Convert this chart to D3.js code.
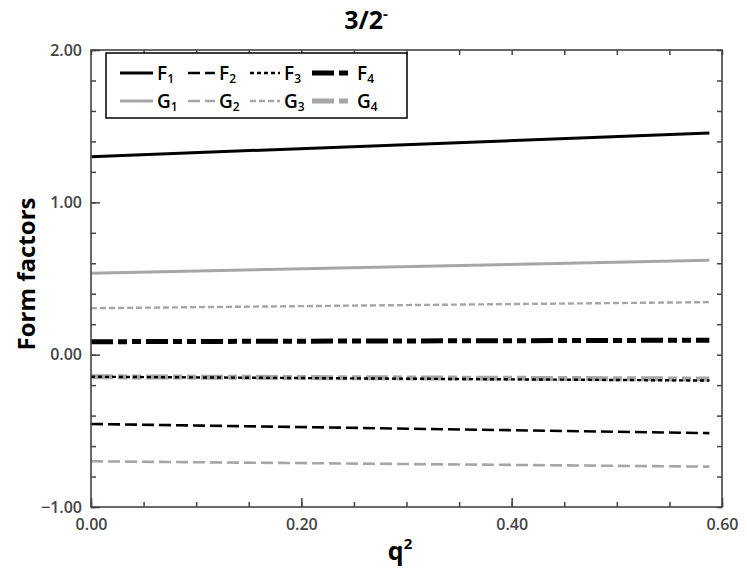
<!DOCTYPE html>
<html>
<head>
<meta charset="utf-8">
<script src="https://cdn.jsdelivr.net/npm/d3@7"></script>
<style>
  body { margin: 0; background: #fff; }
  text { font-family: "Open Sans", "Noto Sans", sans-serif; }
</style>
</head>
<body>
<div id="chart"></div>
<script>
// chart data
var q2 = [0, 0.588];
var seriesNames = ["F1", "F2", "F3", "F4", "G1", "G2", "G3", "G4"];
var F1 = [1.30, 1.455];
var F2 = [-0.455, -0.515];
var F3 = [-0.145, -0.17];
var F4 = [0.085, 0.095];
var G1 = [0.535, 0.62];
var G2 = [-0.70, -0.735];
var G3 = [0.305, 0.345];
var G4 = [-0.145, -0.16];
var xTicks = [0, 0.2, 0.4, 0.6];
var yTicks = [-1, 0, 1, 2];

var svgWidth = 747;
var svgHeight = 588;
var margin = { top: 50, right: 25, bottom: 81, left: 91 };
var width = svgWidth - margin.left - margin.right;
var height = svgHeight - margin.top - margin.bottom;

var black = "#000";
var grey = "#a6a6a6";
var axisColor = "#444";

// line styles for each series
var styles = {
    F1: { color: black, w: 3, dash: null },
    F2: { color: black, w: 2.6, dash: "12,5" },
    F3: { color: black, w: 2.4, dash: "4,3" },
    F4: { color: black, w: 5, dash: "22,5,9,5,9,5" },
    G1: { color: grey, w: 3, dash: null },
    G2: { color: grey, w: 2.6, dash: "12,5" },
    G3: { color: grey, w: 2.4, dash: "6,3" },
    G4: { color: grey, w: 5, dash: "22,5,9,5,9,5" }
};
var values = { F1: F1, F2: F2, F3: F3, F4: F4, G1: G1, G2: G2, G3: G3, G4: G4 };

var svg = d3.select("#chart").append("svg")
    .attr("width", svgWidth)
    .attr("height", svgHeight);

var chartGroup = svg.append("g")
    .attr("transform", `translate(${margin.left}, ${margin.top})`);

var xScale = d3.scaleLinear().domain([0, 0.6]).range([0, width]);
var yScale = d3.scaleLinear().domain([-1, 2]).range([height, 0]);

// lines (draw in an order so F3 sits on top of G4 like the original)
var line = d3.line()
    .x(function(d) { return xScale(d[0]); })
    .y(function(d) { return yScale(d[1]); });

["G2", "F2", "G4", "F3", "F4", "G3", "G1", "F1"].forEach(function(name) {
    var s = styles[name];
    var pts = q2.map(function(q, i) { return [q, values[name][i]]; });
    chartGroup.append("path")
        .datum(pts)
        .attr("d", line)
        .attr("fill", "none")
        .attr("stroke", s.color)
        .attr("stroke-width", s.w)
        .attr("stroke-dasharray", s.dash);
});

// axes: ticks inside, minor ticks too
var xMinor = d3.range(0, 0.6001, 0.05);
var yMinor = d3.range(-1, 2.001, 0.2);

function tickStyle(g) {
    g.select(".domain").remove();
    g.selectAll(".tick line").attr("stroke", axisColor).attr("stroke-width", 1.5);
}

chartGroup.append("g")
    .attr("transform", `translate(0, ${height})`)
    .call(d3.axisBottom(xScale).tickValues(xMinor).tickSizeInner(-5).tickFormat(""))
    .call(tickStyle);
chartGroup.append("g")
    .call(d3.axisTop(xScale).tickValues(xMinor).tickSizeInner(-5).tickFormat(""))
    .call(tickStyle);
chartGroup.append("g")
    .call(d3.axisLeft(yScale).tickValues(yMinor).tickSizeInner(-5).tickFormat(""))
    .call(tickStyle);
chartGroup.append("g")
    .attr("transform", `translate(${width}, 0)`)
    .call(d3.axisRight(yScale).tickValues(yMinor).tickSizeInner(-5).tickFormat(""))
    .call(tickStyle);

// major ticks with labels
var xAxis = chartGroup.append("g")
    .attr("transform", `translate(0, ${height})`)
    .call(d3.axisBottom(xScale).tickValues(xTicks).tickSizeInner(-9).tickPadding(12)
        .tickFormat(d3.format(".2f")));
xAxis.call(tickStyle);
xAxis.selectAll("text")
    .style("font-size", "16px").style("font-weight", "600").attr("fill", axisColor);

var yAxis = chartGroup.append("g")
    .call(d3.axisLeft(yScale).tickValues(yTicks).tickSizeInner(-9).tickPadding(9)
        .tickFormat(function(d) { return d < 0 ? "\u2212" + d3.format(".2f")(-d) : d3.format(".2f")(d); }));
yAxis.call(tickStyle);
yAxis.selectAll("text")
    .style("font-size", "16px").style("font-weight", "600").attr("fill", axisColor);

// frame
chartGroup.append("rect")
    .attr("width", width)
    .attr("height", height)
    .attr("fill", "none")
    .attr("stroke", axisColor)
    .attr("stroke-width", 1.6);

// title
var title = svg.append("text")
    .attr("x", 366)
    .attr("y", 29)
    .attr("text-anchor", "middle")
    .style("font-size", "25px")
    .style("font-weight", "bold")
    .text("3/2");
title.append("tspan")
    .attr("dy", -10)
    .style("font-size", "15px")
    .text("-");

// axis labels
svg.append("text")
    .attr("transform", "translate(35, 274) rotate(-90)")
    .attr("text-anchor", "middle")
    .style("font-size", "24px")
    .style("font-weight", "bold")
    .text("Form factors");

var xLabel = svg.append("text")
    .attr("x", 400)
    .attr("y", 560)
    .attr("text-anchor", "middle")
    .style("font-size", "25px")
    .style("font-weight", "bold")
    .text("q");
xLabel.append("tspan")
    .attr("dy", -11)
    .style("font-size", "15px")
    .text("2");

// legend
var legend = svg.append("g");
legend.append("rect")
    .attr("x", 106).attr("y", 53)
    .attr("width", 301).attr("height", 65)
    .attr("fill", "#fff")
    .attr("stroke", black)
    .attr("stroke-width", 1.5);

var legendX = [120, 188, 250, 312];
var legendLen = [33, 27, 30, 41];
var legendY = [73, 101];

seriesNames.forEach(function(name, i) {
    var col = i % 4, row = Math.floor(i / 4);
    var s = styles[name];
    var x0 = legendX[col], y0 = legendY[row];
    legend.append("line")
        .attr("x1", x0).attr("x2", x0 + legendLen[col])
        .attr("y1", y0).attr("y2", y0)
        .attr("stroke", s.color)
        .attr("stroke-width", s.w)
        .attr("stroke-dasharray", s.dash);
    var t = legend.append("text")
        .attr("x", x0 + legendLen[col] + 4)
        .attr("y", y0 + 7)
        .style("font-size", "19px")
        .style("font-weight", "600")
        .text(name[0]);
    t.append("tspan")
        .attr("dy", 3)
        .style("font-size", "12px")
        .text(name[1]);
});
</script>
</body>
</html>
